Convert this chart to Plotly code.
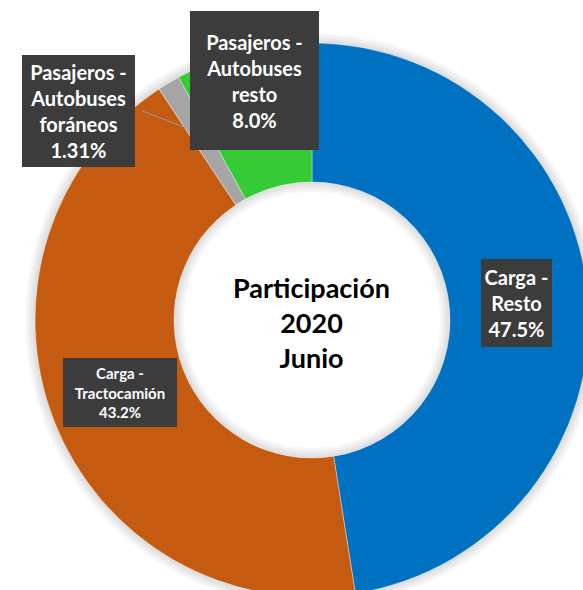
import plotly.graph_objects as go

# Data
categories = ["Carga - Resto", "Carga - Tractocamión", "Pasajeros - Autobuses foráneos", "Pasajeros - Autobuses resto"]
values = [47.5, 43.2, 1.31, 8.0]
value_labels = ["47.5%", "43.2%", "1.31%", "8.0%"]
colors = ["#0070C0", "#C55A11", "#A5A5A5", "#36CA36"]
center_title = ["Participación", "2020", "Junio"]

# paper is a bit larger than the window; the page clips the overflow
W, H = 620, 620

def px(x):
    return x / W

def py(y):
    return 1 - y / H

CX, CY, R, R_HOLE = 312, 320, 277, 138

def dom(r):
    return dict(x=[px(CX - r), px(CX + r)], y=[py(CY + r), py(CY - r)])

fig = go.Figure()

# soft shadow rings (decoration)
for k in range(1, 5):
    ro = R + 2.5 * k
    fig.add_trace(go.Pie(values=[1], sort=False, hole=R / ro, domain=dom(ro),
                         marker=dict(colors=["rgba(0,0,0,0.03)"], line=dict(width=0)),
                         textinfo="none", hoverinfo="skip", showlegend=False))
for k in range(1, 5):
    ri = R_HOLE - 2.5 * k
    fig.add_trace(go.Pie(values=[1], sort=False, hole=ri / R_HOLE, domain=dom(R_HOLE),
                         marker=dict(colors=["rgba(0,0,0,0.03)"], line=dict(width=0)),
                         textinfo="none", hoverinfo="skip", showlegend=False))

fig.add_trace(go.Pie(
    labels=categories,
    values=values,
    sort=False,
    direction="clockwise",
    rotation=0,
    hole=R_HOLE / R,
    marker=dict(colors=colors, line=dict(color="rgba(255,255,255,0.6)", width=0.6)),
    textinfo="none",
    hoverinfo="label+percent",
    showlegend=False,
    domain=dom(R),
))

font_fam = "Lato, 'Open Sans', sans-serif"
box_bg = "#3C3C3C"

annotations = []
# leader line for foráneos label
annotations.append(dict(
    x=px(186), y=py(128), xref="paper", yref="paper",
    ax=-46, ay=-18, text="", showarrow=True, arrowhead=0,
    arrowwidth=1, arrowcolor="#9A9A9A",
))

def box(text, cx, cy, w, h, size):
    return dict(
        x=px(cx), y=py(cy), xref="paper", yref="paper",
        xanchor="center", yanchor="middle",
        text=text, showarrow=False,
        width=w, height=h, borderpad=0, borderwidth=0,
        bgcolor=box_bg, align="center", valign="middle",
        font=dict(family=font_fam, size=size, color="white", weight="bold"),
    )

annotations.append(box("Pasajeros -<br>Autobuses<br>resto<br>" + value_labels[3], 254.5, 80.5, 129, 139, 20))
annotations.append(box("Pasajeros -<br>Autobuses<br>foráneos<br>" + value_labels[2], 78.5, 111, 113, 112, 20))
annotations.append(box("Carga -<br>Resto<br>" + value_labels[0], 516.5, 303, 71, 88, 20))
annotations.append(box("Carga -<br>Tractocamión<br>" + value_labels[1], 120, 392.5, 114, 69, 15))

annotations.append(dict(
    x=px(312), y=py(322), xref="paper", yref="paper",
    xanchor="center", yanchor="middle",
    text="<br>".join(center_title), showarrow=False, align="center",
    font=dict(family=font_fam, size=27, color="black", weight="bold"),
))

fig.update_layout(
    width=W, height=H,
    margin=dict(l=0, r=0, t=0, b=0),
    paper_bgcolor="white", plot_bgcolor="white",
    annotations=annotations,
)

fig.write_html(
    "out.html",
    config={"displayModeBar": False},
    post_script="document.body.style.margin='0';document.body.style.overflow='hidden';"
                "document.documentElement.style.overflow='hidden';",
)
